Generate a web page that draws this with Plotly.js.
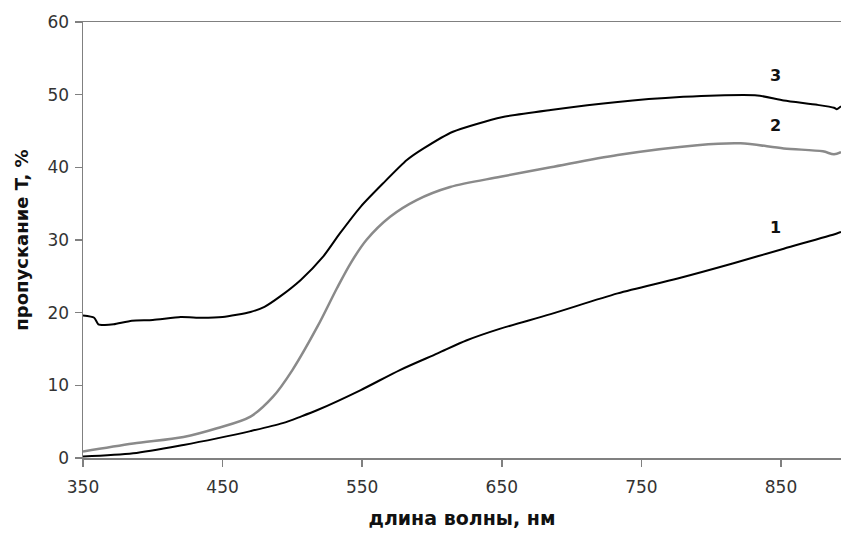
<!DOCTYPE html>
<html>
<head>
<meta charset="utf-8">
<script src="https://cdn.plot.ly/plotly-3.0.1.min.js"></script>
<style>html,body{margin:0;padding:0;background:#fff;}#chart{width:841px;height:533px;}</style>
</head>
<body>
<div id="chart"></div>
<script>
// Curve 1
const wl1 = [350, 386, 422, 446, 470, 493, 506, 518, 549, 577, 604, 625, 649, 685, 733, 776, 816, 852, 890, 893];
const t1  = [0.2, 0.65, 1.8, 2.7, 3.7, 4.8, 5.7, 6.6, 9.35, 12.1, 14.4, 16.2, 17.8, 19.8, 22.65, 24.7, 26.8, 28.8, 30.9, 31.1];
// Curve 2
const wl2 = [350, 386, 422, 446, 470, 486, 500, 518, 532, 542, 553, 570, 589, 613, 649, 685, 733, 790, 821, 852, 880, 888, 893];
const t2  = [0.9, 2.0, 2.9, 4.1, 5.7, 8.4, 12.1, 18.1, 23.4, 26.9, 30.0, 33.2, 35.5, 37.3, 38.7, 40.0, 41.7, 43.05, 43.3, 42.6, 42.2, 41.8, 42.1];
// Curve 3
const wl3 = [350, 358, 361, 365, 372, 385, 400, 420, 435, 450, 470, 480, 491, 506, 522, 534, 549, 565, 582, 594, 615, 650, 685, 733, 780, 804, 833, 852, 876, 888, 890, 893];
const t3  = [19.6, 19.3, 18.4, 18.3, 18.4, 18.9, 19.0, 19.4, 19.3, 19.4, 20.1, 20.8, 22.2, 24.5, 27.7, 30.9, 34.6, 37.8, 41.0, 42.6, 44.9, 46.9, 47.9, 49.0, 49.7, 49.9, 49.9, 49.2, 48.6, 48.2, 48.0, 48.4];
// Curve labels
const labelText = ["1", "2", "3"];
const labelX = [846, 846, 846];
const labelY = [31.7, 45.7, 52.7];

const traces = [
  {x: wl1, y: t1, mode: 'lines', line: {color: '#000000', width: 2, shape: 'spline', smoothing: 0.8}, hoverinfo: 'skip'},
  {x: wl2, y: t2, mode: 'lines', line: {color: '#8a8a8a', width: 2.5, shape: 'spline', smoothing: 0.9}, hoverinfo: 'skip'},
  {x: wl3, y: t3, mode: 'lines', line: {color: '#000000', width: 2, shape: 'spline', smoothing: 0.6}, hoverinfo: 'skip'}
];

const annotations = labelText.map((t, i) => ({
  x: labelX[i], y: labelY[i], xref: 'x', yref: 'y', text: t, showarrow: false,
  font: {family: 'DejaVu Sans, sans-serif', size: 16, color: '#111', weight: 'bold'}
}));

const tickFont = {family: 'DejaVu Sans, sans-serif', size: 17, color: '#333'};
const titleFont = {family: 'DejaVu Sans, sans-serif', size: 19, color: '#111', weight: 'bold'};

const layout = {
  width: 841, height: 533,
  margin: {l: 83, r: 0, t: 22, b: 75},
  paper_bgcolor: '#ffffff', plot_bgcolor: '#ffffff',
  showlegend: false,
  xaxis: {
    range: [350, 893], tickvals: [350, 450, 550, 650, 750, 850],
    ticks: 'outside', ticklen: 7, tickcolor: '#808080', tickwidth: 1.5,
    ticklabelstandoff: 6,
    showline: true, linecolor: '#808080', linewidth: 1.5, mirror: true,
    showgrid: false, zeroline: false, tickfont: tickFont,
    title: {text: 'длина волны, нм', font: titleFont, standoff: 16}
  },
  yaxis: {
    range: [0, 60], tickvals: [0, 10, 20, 30, 40, 50, 60],
    ticks: 'outside', ticklen: 7, tickcolor: '#808080', tickwidth: 1.5,
    ticklabelstandoff: 2,
    showline: true, linecolor: '#808080', linewidth: 1.5,
    showgrid: false, zeroline: false, tickfont: tickFont,
    title: {text: 'пропускание T, %', font: {family: 'DejaVu Sans, sans-serif', size: 18, color: '#111', weight: 'bold'}, standoff: 14}
  },
  annotations: annotations
};

Plotly.newPlot('chart', traces, layout, {displayModeBar: false, staticPlot: true});
</script>
</body>
</html>
